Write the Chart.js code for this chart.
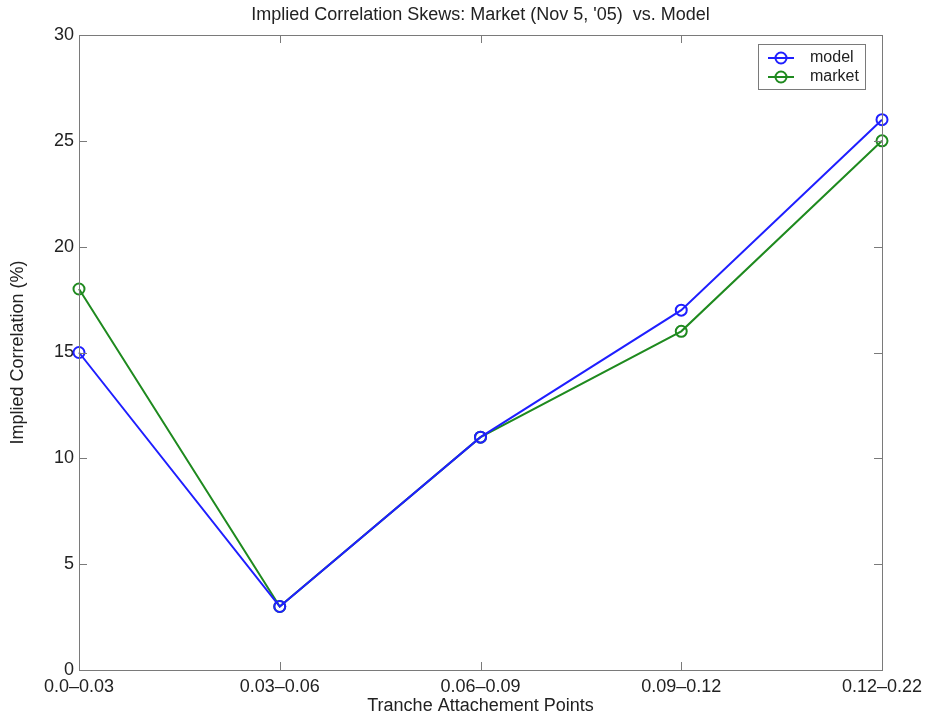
<!DOCTYPE html>
<html lang="en">
<head>
    <meta charset="UTF-8">
    <title>Implied Correlation Skews</title>
    <script src="https://cdn.jsdelivr.net/npm/chart.js"></script>
    <style>
        body { margin: 0; background: #fff; }
        #wrap { width: 927px; height: 716px; }
    </style>
</head>
<body>
    <div id="wrap"><canvas id="skewChart" width="927" height="716"></canvas></div>

    <script>
        const tranches = ["0.0\u20130.03", "0.03\u20130.06", "0.06\u20130.09", "0.09\u20130.12", "0.12\u20130.22"];
        const modelCorr = [15, 3, 11, 17, 26];
        const marketCorr = [18, 3, 11, 16, 25];
        const yTicks = [0, 5, 10, 15, 20, 25, 30];

        const BLUE = "#1f1fff";
        const GREEN = "#1f8a1f";
        const AXIS = "#7a7a7a";
        const FONT = "'Liberation Sans', Arial, Helvetica, sans-serif";

        // frame, inward tick marks, title and legend box
        const framePlugin = {
            id: "frame",
            afterDraw(chart) {
                const ctx = chart.ctx;
                const a = chart.chartArea;
                const xs = chart.scales.x, ys = chart.scales.y;
                ctx.save();
                ctx.strokeStyle = AXIS;
                ctx.lineWidth = 1;
                ctx.strokeRect(Math.round(a.left) + 0.5, Math.round(a.top) + 0.5,
                    Math.round(a.right - a.left), Math.round(a.bottom - a.top));
                const tl = 8;
                ctx.beginPath();
                tranches.forEach((t, i) => {
                    const x = Math.round(xs.getPixelForValue(i)) + 0.5;
                    ctx.moveTo(x, a.bottom); ctx.lineTo(x, a.bottom - tl);
                    ctx.moveTo(x, a.top); ctx.lineTo(x, a.top + tl);
                });
                yTicks.forEach(v => {
                    const y = Math.round(ys.getPixelForValue(v)) + 0.5;
                    ctx.moveTo(a.left, y); ctx.lineTo(a.left + tl, y);
                    ctx.moveTo(a.right, y); ctx.lineTo(a.right - tl, y);
                });
                ctx.stroke();

                // title
                ctx.fillStyle = "#222";
                ctx.font = "18px " + FONT;
                ctx.textAlign = "center";
                ctx.textBaseline = "middle";
                ctx.fillText("Implied Correlation Skews: Market (Nov 5, '05)  vs. Model", (a.left + a.right) / 2, 15);

                // legend
                const lx = 758, ly = 44, lw = 107, lh = 45;
                ctx.fillStyle = "#fff";
                ctx.fillRect(lx, ly, lw, lh);
                ctx.strokeStyle = AXIS;
                ctx.lineWidth = 1;
                ctx.strokeRect(lx + 0.5, ly + 0.5, lw, lh);
                const entries = [["model", BLUE], ["market", GREEN]];
                entries.forEach(([name, col], i) => {
                    const y = ly + 14 + i * 19;
                    ctx.strokeStyle = col;
                    ctx.lineWidth = 2;
                    ctx.beginPath();
                    ctx.moveTo(lx + 10, y); ctx.lineTo(lx + 36, y);
                    ctx.stroke();
                    ctx.beginPath();
                    ctx.arc(lx + 23, y, 5.5, 0, Math.PI * 2);
                    ctx.stroke();
                    ctx.fillStyle = "#222";
                    ctx.font = "16px " + FONT;
                    ctx.textAlign = "left";
                    ctx.fillText(name, lx + 52, y);
                });
                ctx.restore();
            }
        };

        const ctx = document.getElementById("skewChart").getContext("2d");
        new Chart(ctx, {
            type: "line",
            data: {
                labels: tranches,
                datasets: [
                    {
                        label: "model",
                        data: modelCorr,
                        borderColor: BLUE,
                        backgroundColor: "rgba(0,0,0,0)",
                        pointBorderColor: BLUE,
                        pointBackgroundColor: "rgba(0,0,0,0)",
                        borderWidth: 2,
                        pointRadius: 5.5,
                        pointBorderWidth: 2,
                        tension: 0
                    },
                    {
                        label: "market",
                        data: marketCorr,
                        borderColor: GREEN,
                        backgroundColor: "rgba(0,0,0,0)",
                        pointBorderColor: GREEN,
                        pointBackgroundColor: "rgba(0,0,0,0)",
                        borderWidth: 2,
                        pointRadius: 5.5,
                        pointBorderWidth: 2,
                        tension: 0
                    }
                ]
            },
            options: {
                responsive: false,
                animation: false,
                layout: { padding: { left: 0, right: 45, top: 35, bottom: 0 } },
                plugins: {
                    legend: { display: false },
                    tooltip: { enabled: false }
                },
                scales: {
                    x: {
                        type: "category",
                        offset: false,
                        grid: { display: false, drawTicks: false, tickLength: 0 },
                        border: { display: false },
                        ticks: {
                            color: "#222",
                            font: { family: FONT, size: 18, lineHeight: 1 },
                            padding: 8,
                            maxRotation: 0,
                            autoSkip: false
                        },
                        title: {
                            display: true,
                            text: "Tranche Attachement Points",
                            color: "#222",
                            font: { family: FONT, size: 18, lineHeight: 1 },
                            padding: { top: 0, bottom: 1 }
                        },
                        afterFit(scale) {
                            scale.height = 46;
                            scale.paddingLeft = 0;
                            scale.paddingRight = 0;
                        }
                    },
                    y: {
                        min: 0,
                        max: 30,
                        grid: { display: false, drawTicks: false, tickLength: 0 },
                        border: { display: false },
                        ticks: {
                            stepSize: 5,
                            color: "#222",
                            font: { family: FONT, size: 18, lineHeight: 1 },
                            padding: 5
                        },
                        title: {
                            display: true,
                            text: "Implied Correlation (%)",
                            color: "#222",
                            font: { family: FONT, size: 18, lineHeight: 1 },
                            padding: { top: 9, bottom: 0 }
                        },
                        afterFit(scale) { scale.width = 79; }
                    }
                }
            },
            plugins: [framePlugin]
        });
    </script>
</body>
</html>
